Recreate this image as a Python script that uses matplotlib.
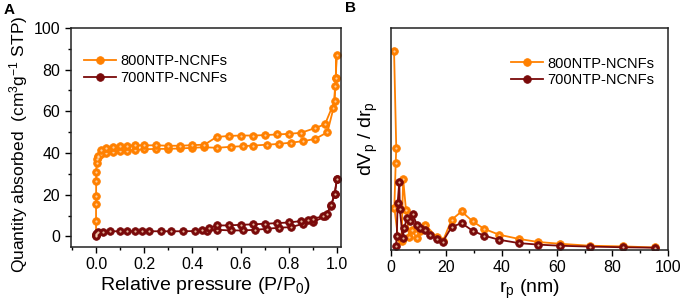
import matplotlib
matplotlib.use("Agg")
import matplotlib.pyplot as plt
from matplotlib.ticker import MultipleLocator, NullLocator

plt.rcParams['font.family'] = ['Liberation Sans', 'DejaVu Sans']
plt.rcParams['mathtext.fontset'] = 'custom'
plt.rcParams['mathtext.rm'] = 'Liberation Sans'
plt.rcParams['mathtext.it'] = 'Liberation Sans'
plt.rcParams['mathtext.default'] = 'regular'

ORANGE = "#ff8000"
DARKRED = "#7a0a0a"

# ---- panel A: isotherms ----
p800_ads = [0.00001, 0.00005, 0.0001, 0.0003, 0.0006, 0.001, 0.002, 0.004, 0.007, 0.01,
            0.02, 0.04, 0.07, 0.1, 0.13, 0.16, 0.2, 0.25, 0.3, 0.35, 0.4, 0.45,
            0.5, 0.56, 0.61, 0.65, 0.71, 0.76, 0.81, 0.86, 0.91, 0.96, 0.985, 0.995]
v800_ads = [0.5, 7.4, 15.4, 19.4, 26.4, 30.9, 35.2, 37.0, 38.0, 38.8,
            39.5, 40.0, 40.5, 40.8, 41.2, 41.5, 41.8, 42.0, 42.0, 42.2, 42.5, 42.8,
            42.5, 43.0, 43.3, 43.6, 44.0, 44.4, 45.0, 45.7, 46.8, 50.0, 61.5, 76.0]
p800_des = [0.995, 0.998, 0.993, 0.99, 0.95, 0.91, 0.85, 0.8, 0.75, 0.7, 0.65, 0.6,
            0.55, 0.5, 0.45, 0.4, 0.35, 0.3, 0.25, 0.2, 0.16, 0.13, 0.1, 0.07, 0.04, 0.02]
v800_des = [76.0, 87.0, 72.0, 65.0, 53.8, 52.0, 49.7, 49.2, 48.9, 48.6, 48.4, 48.4,
            48.2, 47.7, 44.0, 43.8, 43.5, 43.5, 43.7, 43.7, 43.7, 43.5, 43.3, 43.0, 42.5, 41.5]

p700_ads = [0.00001, 0.0001, 0.001, 0.005, 0.01, 0.03, 0.06, 0.1, 0.13, 0.16, 0.19,
            0.22, 0.27, 0.31, 0.36, 0.41, 0.46, 0.5, 0.56, 0.61, 0.66, 0.71, 0.76,
            0.81, 0.86, 0.9, 0.95, 0.975, 0.99, 1.0]
v700_ads = [0.3, 0.8, 1.2, 1.6, 2.0, 2.3, 2.5, 2.5, 2.5, 2.5, 2.5,
            2.5, 2.5, 2.5, 2.5, 2.6, 2.8, 3.2, 2.9, 2.9, 3.2, 3.7, 4.2,
            4.5, 6.1, 6.9, 9.6, 14.4, 20.5, 27.7]
p700_des = [1.0, 0.99, 0.975, 0.958, 0.94, 0.9, 0.88, 0.85, 0.8, 0.75, 0.7, 0.65,
            0.6, 0.55, 0.5, 0.47, 0.44]
v700_des = [27.7, 20.5, 14.9, 10.9, 9.6, 8.5, 8.0, 7.4, 6.7, 6.4, 6.1, 5.8,
            5.6, 5.3, 5.3, 4.0, 3.0]

# ---- panel B: pore size distribution (arbitrary units) ----
r800 = [1.1, 1.9, 1.7, 1.2, 2.5, 3.8, 4.4, 5.4, 6.6, 7.5, 9.3, 10.5, 12.3, 16.5,
        18.7, 21.9, 25.5, 29.5, 33.6, 39.1, 46.2, 53.2, 61.0, 71.8, 83.7, 95.3]
d800 = [89.7, 45.3, 38.5, 18.2, 4.9, 2.9, 31.2, 17.3, 4.9, 8.2, 4.4, 7.4, 10.5, 4.9,
        2.9, 12.7, 16.5, 12.0, 8.6, 5.9, 4.0, 2.6, 1.8, 0.9, 0.6, 0.1]
r700 = [1.8, 2.1, 2.4, 3.0, 3.2, 4.2, 4.8, 5.7, 6.9, 7.8, 9.3, 10.5, 12.3, 14.1,
        16.5, 18.7, 21.9, 25.5, 29.5, 33.6, 39.1, 46.2, 53.2, 61.0, 71.8, 83.7, 95.3]
d700 = [0.6, 5.5, 20.3, 30.0, 17.6, 4.4, 9.0, 13.5, 12.0, 15.5, 10.5, 9.0, 8.2, 5.9,
        3.9, 2.7, 9.4, 11.2, 7.7, 5.5, 3.6, 2.1, 1.4, 0.9, 0.5, 0.2, 0.0]

fig = plt.figure(figsize=(6.8, 3.0), dpi=100)
axA = fig.add_axes([0.104, 0.177, 0.397, 0.730])
axB = fig.add_axes([0.575, 0.167, 0.407, 0.740])

mk = dict(marker='o', ms=5.5, lw=1.3, mew=0.6)


def sphere(ax, x, y, color, **kw):
    ax.plot(x, y, color=color, mec=color, mfc=color, **mk, **kw)
    ax.plot(x, y, ls='none', marker='o', ms=1.6, mfc='#ffe0c0', mec='none', alpha=0.8)


sphere(axA, p800_ads, v800_ads, ORANGE, label='800NTP-NCNFs')
sphere(axA, p800_des, v800_des, ORANGE)
sphere(axA, p700_ads, v700_ads, DARKRED, label='700NTP-NCNFs')
sphere(axA, p700_des, v700_des, DARKRED)

axA.set_xlim(-0.105, 1.015)
axA.set_ylim(-5, 100)
axA.xaxis.set_major_locator(MultipleLocator(0.2))
axA.xaxis.set_minor_locator(MultipleLocator(0.1))
axA.yaxis.set_major_locator(MultipleLocator(20))
axA.yaxis.set_minor_locator(MultipleLocator(10))
axA.set_xticks([0.0, 0.2, 0.4, 0.6, 0.8, 1.0])
axA.set_xticklabels(['0.0', '0.2', '0.4', '0.6', '0.8', '1.0'])
axA.set_xlabel('Relative pressure (P/P$_0$)', fontsize=14, labelpad=2)
axA.set_ylabel('Quantity absorbed  (cm$^3$g$^{-1}$ STP)', fontsize=12.5, labelpad=1)
axA.yaxis.set_label_coords(-0.15, 0.47)
axA.legend(loc='upper left', bbox_to_anchor=(0.0, 0.94), frameon=False,
           fontsize=10.5, handlelength=2.2, handletextpad=0.3, labelspacing=0.2)

sphere(axB, r800, d800, ORANGE, label='800NTP-NCNFs')
sphere(axB, r700, d700, DARKRED, label='700NTP-NCNFs')
axB.set_xlim(0, 100)
axB.set_ylim(-1, 100)
axB.xaxis.set_major_locator(MultipleLocator(20))
axB.xaxis.set_minor_locator(MultipleLocator(10))
axB.yaxis.set_major_locator(NullLocator())
axB.set_xlabel('r$_p$ (nm)', fontsize=14, labelpad=2)
axB.set_ylabel('dV$_p$ / dr$_p$', fontsize=14, labelpad=8)
axB.legend(loc='upper right', bbox_to_anchor=(1.0, 0.93), frameon=False,
           fontsize=10.5, handlelength=2.2, handletextpad=0.3, labelspacing=0.2)

for ax in (axA, axB):
    ax.tick_params(which='major', direction='out', length=4, width=1, labelsize=11.5,
                   top=False, right=False)
    ax.tick_params(which='minor', direction='out', length=2.5, width=1)
    for s in ax.spines.values():
        s.set_linewidth(1.1)
        s.set_color('#222222')

fig.text(0.006, 0.955, 'A', fontsize=11, fontweight='bold')
fig.text(0.508, 0.96, 'B', fontsize=11, fontweight='bold')

fig.savefig('out.png', dpi=100, facecolor='white')
